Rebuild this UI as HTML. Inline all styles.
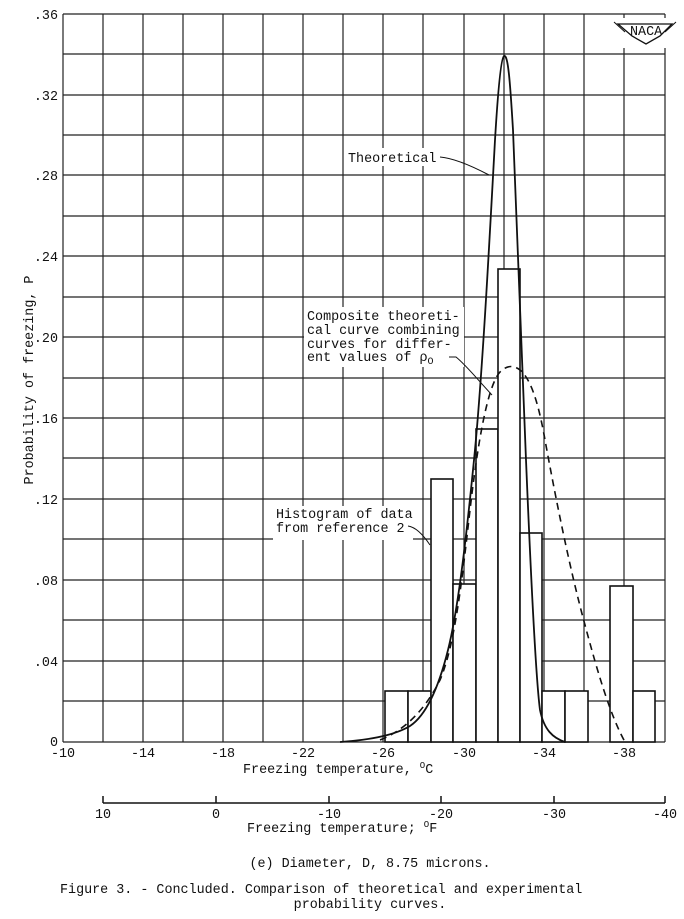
<!DOCTYPE html>
<html><head><meta charset="utf-8"><style>
html,body{margin:0;padding:0;background:#fff}
svg{display:block}
text{font-family:"Liberation Mono",monospace;font-size:13.4px;fill:#111}
</style></head><body>
<svg width="684" height="919" viewBox="0 0 684 919" xmlns="http://www.w3.org/2000/svg">
<g stroke="#222" stroke-width="1.2">
<path d="M63 14V742M103 14V742M143 14V742M183 14V742M223 14V742M263 14V742M303 14V742M343 14V742M383 14V742M423 14V742M464 14V742M504 14V742M544 14V742M584 14V742M624 14V742M665 14V742"/>
<path d="M63 14H665M63 54H665M63 95H665M63 135H665M63 175H665M63 216H665M63 256H665M63 297H665M63 337H665M63 378H665M63 418H665M63 458H665M63 499H665M63 539H665M63 580H665M63 620H665M63 661H665M63 701H665M63 742H665"/>
</g>
<rect x="346" y="148" width="94" height="18" fill="#fff"/>
<rect x="304" y="307" width="160" height="60" fill="#fff"/>
<rect x="273" y="506" width="140" height="34" fill="#fff"/>
<rect x="612" y="18" width="62" height="30" fill="#fff"/>
<g fill="#fff" stroke="#111" stroke-width="1.6">
<rect x="385" y="691" width="23" height="51"/>
<rect x="408" y="691" width="23" height="51"/>
<rect x="431" y="479" width="22" height="263"/>
<rect x="453" y="584" width="23" height="158"/>
<rect x="476" y="429" width="22" height="313"/>
<rect x="498" y="269" width="22" height="473"/>
<rect x="520" y="533" width="22" height="209"/>
<rect x="542" y="691" width="23" height="51"/>
<rect x="565" y="691" width="23" height="51"/>
<rect x="610" y="586" width="23" height="156"/>
<rect x="633" y="691" width="22" height="51"/>
</g>
<path d="M340 742 C370 740 395 735 410 726 C425 716 438 690 448 650 C458 610 466 540 474 460 C482 380 489 250 495 140 C498 90 501 58 504 56 C508 54 510 80 513 130 C517 220 521 330 526 460 C531 580 536 680 540 710 C544 730 553 738 565 742" fill="none" stroke="#111" stroke-width="1.8"/>
<path d="M380 740 C405 730 425 710 440 680 C455 645 462 580 470 510 C478 440 488 385 500 372 C508 364 515 366 520 370 C530 378 538 400 545 440 C556 500 570 570 585 625 C597 670 610 715 625 742" fill="none" stroke="#111" stroke-width="1.6" stroke-dasharray="7,5"/>
<g fill="none" stroke="#111" stroke-width="1">
<path d="M440 157 C452 158 470 165 489 175"/>
<path d="M449 357 L456 357 C466 365 478 380 492 395"/>
<path d="M408 526 C415 527 422 533 430 545"/>
</g>
<text x="348" y="162">Theoretical</text>
<text x="307" y="320">Composite theoreti-</text>
<text x="307" y="334">cal curve combining</text>
<text x="307" y="348">curves for differ-</text>
<text x="307" y="361">ent values of  ρ<tspan font-size="10" dy="3">O</tspan></text>
<text x="276" y="518">Histogram of data</text>
<text x="276" y="532">from reference 2</text>
<path d="M618 24 L672 24 L660 36 L646 44 L632 36 Z" fill="#fff" stroke="#111" stroke-width="1.3"/>
<path d="M614 22 L625 32 M676 22 L665 32" stroke="#111" stroke-width="1"/>
<text x="630" y="35" font-size="10">NACA</text>
<g text-anchor="end">
<text x="58" y="19">.36</text><text x="58" y="100">.32</text><text x="58" y="180">.28</text><text x="58" y="261">.24</text><text x="58" y="342">.20</text><text x="58" y="423">.16</text><text x="58" y="504">.12</text><text x="58" y="585">.08</text><text x="58" y="666">.04</text><text x="58" y="746">0</text>
</g>
<text transform="translate(33,380) rotate(-90)" text-anchor="middle">Probability of freezing, P</text>
<g text-anchor="middle">
<text x="63" y="757">-10</text><text x="143" y="757">-14</text><text x="223" y="757">-18</text><text x="303" y="757">-22</text><text x="383" y="757">-26</text><text x="464" y="757">-30</text><text x="544" y="757">-34</text><text x="624" y="757">-38</text>
</g>
<text x="243" y="773">Freezing temperature, <tspan font-size="9" dy="-5">O</tspan><tspan dy="5">C</tspan></text>
<g stroke="#111" stroke-width="1.5" fill="none">
<path d="M103 803H665M103 796V803M216 796V803M329 796V803M441 796V803M554 796V803M665 796V803"/>
</g>
<g text-anchor="middle">
<text x="103" y="818">10</text><text x="216" y="818">0</text><text x="329" y="818">-10</text><text x="441" y="818">-20</text><text x="554" y="818">-30</text><text x="665" y="818">-40</text>
</g>
<text x="247" y="832">Freezing temperature; <tspan font-size="9" dy="-5">O</tspan><tspan dy="5">F</tspan></text>
<text x="370" y="867" text-anchor="middle">(e) Diameter, D, 8.75 microns.</text>
<text x="60" y="893">Figure 3. - Concluded.  Comparison of theoretical and experimental</text>
<text x="370" y="908" text-anchor="middle">probability curves.</text>
</svg>
</body></html>
